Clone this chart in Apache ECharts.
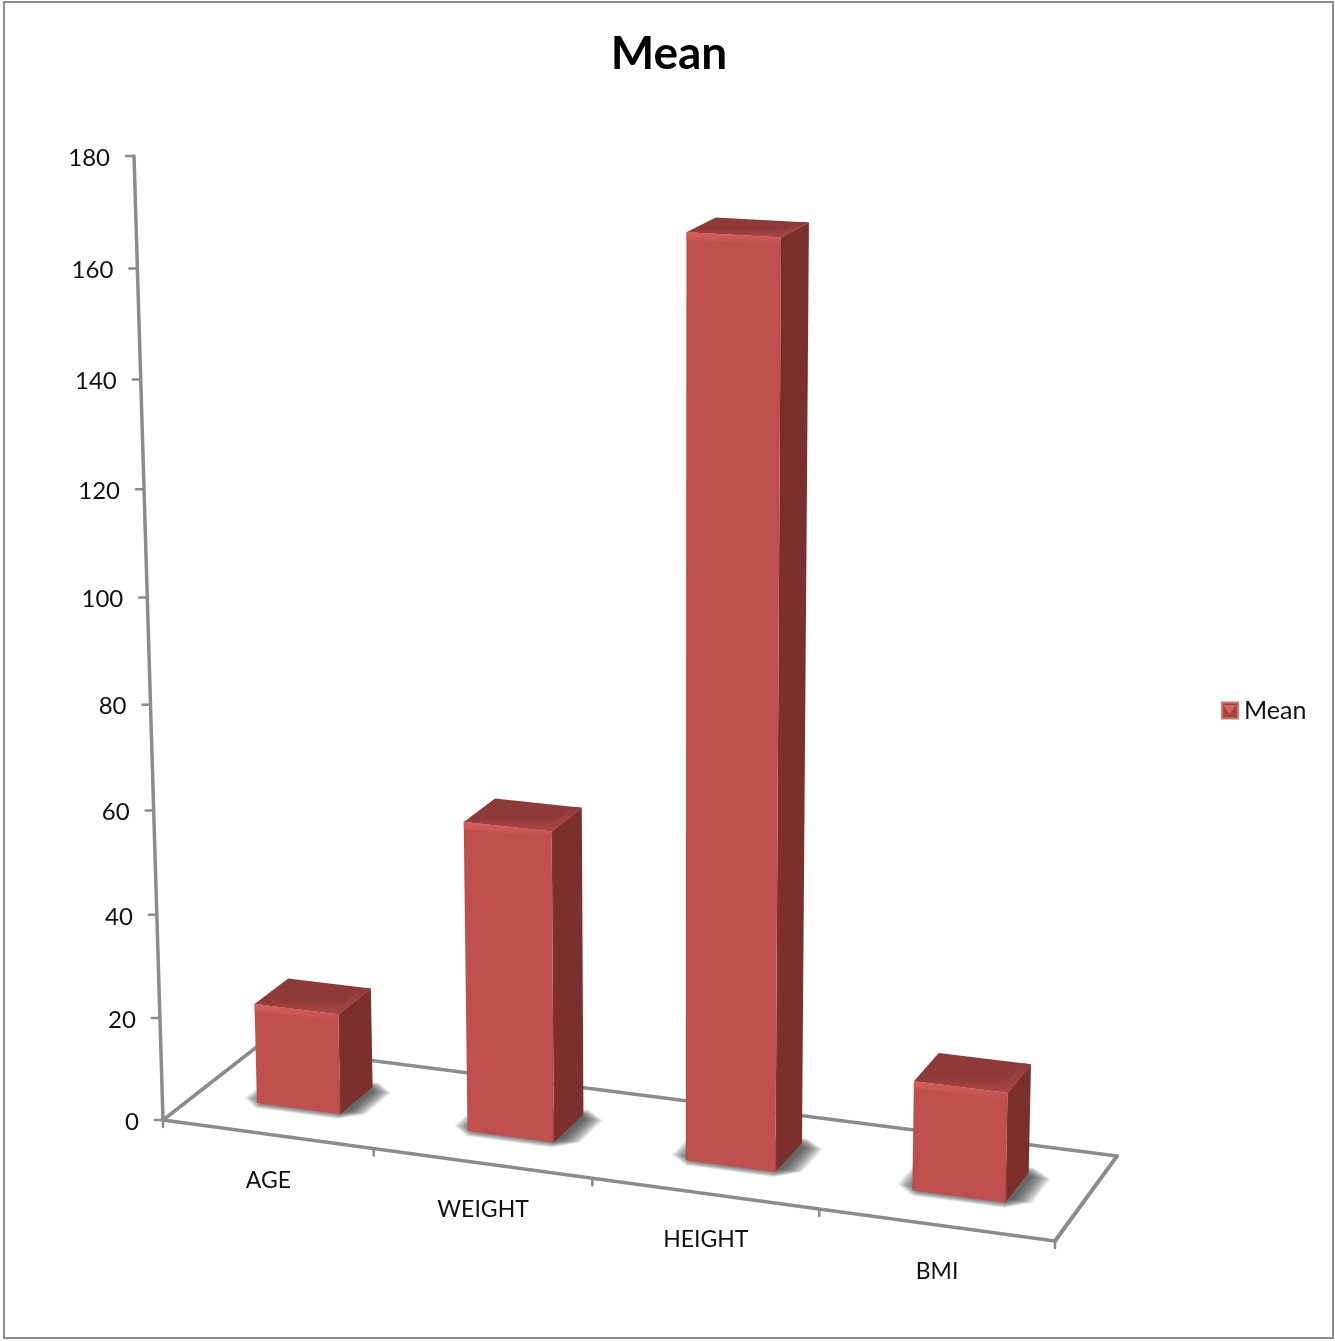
<!DOCTYPE html>
<html>
<head>
<meta charset="utf-8">
<title>Mean</title>
<style>html,body{margin:0;padding:0;background:#fff}#chart{width:1335px;height:1341px}</style>
<script src="https://cdn.jsdelivr.net/npm/echarts@6/dist/echarts.min.js"></script>
</head>
<body>
<div id="chart"></div>
<script>
const categories = ['AGE', 'WEIGHT', 'HEIGHT', 'BMI'];
const meanValues = [19.6, 59.4, 169.3, 20.5];
const yTicks = [0, 20, 40, 60, 80, 100, 120, 140, 160, 180];

const FONT = 'Lato, "Open Sans", sans-serif';
const AXIS_GREY = '#8c8c8c';

// Perspective camera: maps (across, depth, up), each 0..1, onto the page.
const ORIGIN = [163, 1120], ACROSS = [1055, 1241], DEEP = [258, 1046], UP = [134, 156];
const W_ACROSS = -0.072, W_DEEP = 0.0436, W_UP = -0.0537;
function project(u, d, h) {
  const w = 1 + W_ACROSS * u + W_DEEP * d + W_UP * h;
  return [0, 1].map(k => (
    ORIGIN[k]
    + u * ((1 + W_ACROSS) * ACROSS[k] - ORIGIN[k])
    + d * ((1 + W_DEEP) * DEEP[k] - ORIGIN[k])
    + h * ((1 + W_UP) * UP[k] - ORIGIN[k])
  ) / w);
}

// Converts a data pair into plot fractions through the grid's own scales.
function fractions(api, params, cat, val) {
  const p = api.coord([cat, val]);
  const cs = params.coordSys;
  return { u: (p[0] - cs.x) / cs.width, h: (cs.y + cs.height - p[1]) / cs.height, bandU: api.size([1, 0])[0] / cs.width };
}

function poly(points, fill, extra) {
  return { type: 'polygon', silent: true, shape: { points }, style: Object.assign({ fill }, extra || {}) };
}
function seg(a, b, width) {
  return { type: 'line', silent: true, shape: { x1: a[0], y1: a[1], x2: b[0], y2: b[1] },
    style: { stroke: AXIS_GREY, lineWidth: width, lineCap: 'round' } };
}
function label(text, x, y, align, size) {
  return { type: 'text', silent: true, style: { text, x, y, textAlign: align, textVerticalAlign: 'middle',
    fontFamily: FONT, fontSize: size, fill: '#111' } };
}

function renderFloor(params, api) {
  const o = project(0, 0, 0), x = project(1, 0, 0), d = project(0, 1, 0), xd = project(1, 1, 0);
  const top = fractions(api, params, 0, 180);
  return { type: 'group', children: [
    seg(o, x, 3.5), seg(x, xd, 4), seg(xd, d, 3.5), seg(d, o, 3.5),
    seg(o, project(0, 0, top.h), 3.5)
  ] };
}

function renderYTick(params, api) {
  const f = fractions(api, params, 0, api.value(1));
  const p = project(0, 0, f.h);
  return { type: 'group', children: [
    seg([p[0] - 8, p[1]], p, 2.5),
    label(String(api.value(1)), p[0] - 24, p[1] + 2, 'right', 24)
  ] };
}

function renderXTick(params, api) {
  const i = api.value(0);
  const f = fractions(api, params, i, 0);
  const edge = project(f.u + f.bandU / 2, 0, 0);
  const mid = project(f.u, 0, 0);
  const children = [seg(edge, [edge[0], edge[1] + 7], 2.5), label(categories[i], mid[0] + 1, mid[1] + 46.5, 'center', 23)];
  if (i === 0) {
    const start = project(0, 0, 0);
    children.push(seg(start, [start[0], start[1] + 7], 2.5));
  }
  return { type: 'group', children };
}

function renderBar(params, api) {
  const f = fractions(api, params, api.value(0), api.value(1));
  const half = f.bandU * 0.2;
  const u0 = f.u - half, u1 = f.u + half;
  const d0 = 0.33, d1 = 0.69, h = f.h;
  const P = project;

  // soft floor shadow, built from nested translucent footprints with cut corners
  const shadowLayers = [];
  const LAYERS = 14;
  for (let k = LAYERS; k >= 1; k--) {
    const gu = 0.0016 * k, gd = 0.0062 * k;
    const L = u0 - gu + 0.003, R = u1 + gu + 0.004;
    const F = d0 - gd + 0.03, B = d1 + gd - 0.03;
    const cu = gu * 0.9 + 0.004, cd = gd * 0.9 + 0.02;
    shadowLayers.push(poly(
      [P(L + cu, F, 0), P(R - cu, F, 0), P(R, F + cd, 0), P(R, B - cd, 0),
       P(R - cu, B, 0), P(L + cu, B, 0), P(L, B - cd, 0), P(L, F + cd, 0)],
      'rgba(45,45,45,0.085)'));
  }

  const sideGrad = { type: 'linear', x: 0, y: 0, x2: 1, y2: 0, colorStops: [
    { offset: 0, color: '#8c3734' }, { offset: 0.12, color: '#7b302e' }, { offset: 1, color: '#7b302e' }] };
  const frontGrad = { type: 'linear', x: 0, y: 0, x2: 1, y2: 0, colorStops: [
    { offset: 0, color: '#b44a47' }, { offset: 0.03, color: '#c0504d' }, { offset: 0.97, color: '#c0504d' }, { offset: 1, color: '#b04845' }] };
  const lidGrad = { type: 'linear', x: 0, y: 0, x2: 0, y2: 1, colorStops: [
    { offset: 0, color: '#8e3a38' }, { offset: 0.6, color: '#8e3a38' }, { offset: 1, color: '#b04946' }] };
  const edgeGrad = { type: 'linear', x: 0, y: 1, x2: 0, y2: 0, colorStops: [
    { offset: 0, color: '#a84542' }, { offset: 1, color: '#8f3a38' }] };
  const glowGrad = { type: 'linear', x: 0, y: 0, x2: 0, y2: 1, colorStops: [
    { offset: 0, color: '#d65f5b' }, { offset: 1, color: '#c0504d' }] };

  const bevelH = 0.007;
  return { type: 'group', children: shadowLayers.concat([
    // right side, then the lid and its lit edge, then the front face
    poly([P(u1, d0, 0), P(u1, d1, 0), P(u1, d1, h), P(u1, d0, h)], sideGrad),
    poly([P(u0, d0, h), P(u1, d0, h), P(u1, d1, h), P(u0, d1, h)], lidGrad),
    poly([P(u1, d0, h), P(u1, d1, h), P(u1 - 0.009, d1, h), P(u1 - 0.009, d0 + 0.05, h)], edgeGrad),
    poly([P(u0, d0, 0), P(u1, d0, 0), P(u1, d0, h), P(u0, d0, h)], frontGrad),
    poly([P(u0, d0, h), P(u1, d0, h), P(u1, d0, h - bevelH), P(u0, d0, h - bevelH)], glowGrad)
  ]) };
}

const chart = echarts.init(document.getElementById('chart'));
chart.setOption({
  animation: false,
  backgroundColor: '#fff',
  title: {
    text: 'Mean', left: 664, top: 26, textAlign: 'center',
    textStyle: { fontFamily: FONT, fontWeight: 'bold', fontSize: 46, color: '#000' }
  },
  legend: {
    data: ['Mean'], left: 1216, top: 693, itemWidth: 16, itemHeight: 16, icon: 'rect', itemGap: 6,
    textStyle: { fontFamily: FONT, fontSize: 25, color: '#111', padding: [0, 0, 0, 1] }
  },
  // The grid spans the axis extents; the camera turns its fractions into page positions.
  grid: { left: 163, top: 156, width: 892, height: 964 },
  xAxis: { type: 'category', data: categories, show: false },
  yAxis: { type: 'value', min: 0, max: 180, interval: 20, show: false },
  graphic: [
    { type: 'rect', silent: true, z: -10, shape: { x: 4, y: 2, width: 1329, height: 1336 },
      style: { fill: 'none', stroke: '#8c8c8c', lineWidth: 2 } },
    // lit facet on the legend swatch
    { type: 'polygon', silent: true, z: 100, shape: { points: [[1223, 705], [1236, 705], [1229.5, 714]] },
      style: { fill: '#dd625e' } }
  ],
  series: [
    { type: 'custom', name: 'floor', z: 1, renderItem: renderFloor, data: [[0, 0]], silent: true },
    { type: 'custom', name: 'yTicks', z: 2, renderItem: renderYTick, data: yTicks.map(t => [0, t]), silent: true },
    { type: 'custom', name: 'xTicks', z: 2, renderItem: renderXTick, data: categories.map((c, i) => [i, 0]), silent: true },
    {
      type: 'custom', name: 'Mean', z: 3, renderItem: renderBar, silent: true,
      itemStyle: { color: '#a8423f', borderColor: '#c97a77', borderWidth: 1 },
      data: meanValues.map((v, i) => [i, v])
    }
  ]
});
</script>
</body>
</html>
